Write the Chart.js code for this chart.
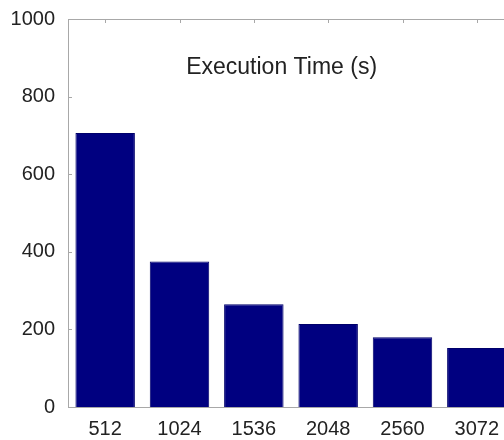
<!DOCTYPE html>
<html>
<head>
<meta charset="utf-8">
<script src="https://cdn.jsdelivr.net/npm/chart.js@4.4.1/dist/chart.umd.min.js"></script>
<style>
  html, body { margin: 0; padding: 0; background: #fff; overflow: hidden; }
  #wrap { width: 504px; height: 440px; overflow: hidden; }
</style>
</head>
<body>
<div id="wrap"><canvas id="timeChart" width="514" height="440"></canvas></div>
<script>
// problem sizes and run times
var sizes = ['512', '1024', '1536', '2048', '2560', '3072'];
var execTimes = [706, 375, 265, 214, 180, 152];
var yTicks = [0, 200, 400, 600, 800, 1000];
var label = 'Execution Time (s)';

var axisGray = '#a8a8a8';
var textColor = '#222';
var fontFamily = '"Liberation Sans", Arial, Helvetica, sans-serif';

// box around the plot, inward tick marks and the in-plot label
var boxPlugin = {
    id: 'box',
    afterDraw: function (chart) {
        var ctx = chart.ctx;
        var a = chart.chartArea;
        var xs = chart.scales.x, ys = chart.scales.y;
        ctx.save();
        ctx.strokeStyle = axisGray;
        ctx.lineWidth = 1;
        ctx.beginPath();
        ctx.moveTo(a.left, a.top + 0.5);
        ctx.lineTo(a.right, a.top + 0.5);
        ctx.moveTo(a.right - 0.5, a.top);
        ctx.lineTo(a.right - 0.5, a.bottom);
        ys.ticks.forEach(function (t, i) {
            var py = Math.round(ys.getPixelForTick(i)) + 0.5;
            ctx.moveTo(a.left, py);
            ctx.lineTo(a.left + 4, py);
        });
        xs.ticks.forEach(function (t, i) {
            var px = Math.round(xs.getPixelForTick(i)) + 0.5;
            ctx.moveTo(px, a.top);
            ctx.lineTo(px, a.top + 4);
        });
        ctx.stroke();

        ctx.fillStyle = textColor;
        ctx.font = '23px ' + fontFamily;
        ctx.textAlign = 'left';
        ctx.textBaseline = 'middle';
        ctx.fillText(label, xs.getPixelForValue(1.09), ys.getPixelForValue(875));
        ctx.restore();
    }
};

var ctx = document.getElementById('timeChart').getContext('2d');
var timeChart = new Chart(ctx, {
    type: 'bar',
    data: {
        labels: sizes,
        datasets: [{
            label: label,
            data: execTimes,
            backgroundColor: '#000080',
            borderColor: '#00006a',
            borderWidth: 1,
            barPercentage: 0.8,
            categoryPercentage: 1.0
        }]
    },
    options: {
        responsive: false,
        animation: false,
        layout: { padding: { top: 19, right: 0, left: 0, bottom: 0 } },
        plugins: {
            legend: { display: false },
            tooltip: { enabled: false }
        },
        scales: {
            x: {
                grid: { display: false },
                border: { display: true, color: axisGray },
                ticks: {
                    color: textColor,
                    padding: 2,
                    maxRotation: 0,
                    font: { family: fontFamily, size: 20 }
                },
                afterFit: function (scale) { scale.height = 33; }
            },
            y: {
                min: 0,
                max: 1000,
                grid: { display: false },
                border: { display: true, color: axisGray },
                afterBuildTicks: function (scale) {
                    scale.ticks = yTicks.map(function (v) { return { value: v }; });
                },
                ticks: {
                    color: textColor,
                    padding: 5,
                    font: { family: fontFamily, size: 20 },
                    callback: function (value) { return String(value); }
                },
                afterFit: function (scale) { scale.width = 68; }
            }
        }
    },
    plugins: [boxPlugin]
});
</script>
</body>
</html>
